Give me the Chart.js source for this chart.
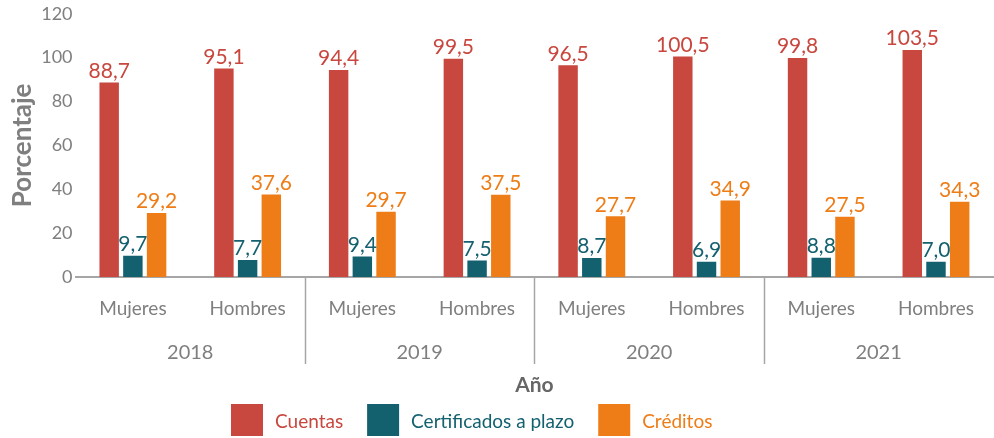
<!DOCTYPE html>
<html>
<head>
<meta charset="utf-8">
<script src="https://cdn.jsdelivr.net/npm/chart.js@4.4.0/dist/chart.umd.min.js"></script>
<style>
  html, body { margin: 0; padding: 0; background: #fff; overflow: hidden; }
  #wrap { width: 994px; height: 438px; position: relative; }
</style>
</head>
<body>
<div id="wrap"><canvas id="myChart"></canvas></div>
<script>
var categories = ['Mujeres', 'Hombres', 'Mujeres', 'Hombres', 'Mujeres', 'Hombres', 'Mujeres', 'Hombres'];
var years = ['2018', '2019', '2020', '2021'];
var cuentas = [88.7, 95.1, 94.4, 99.5, 96.5, 100.5, 99.8, 103.5];
var certificados = [9.7, 7.7, 9.4, 7.5, 8.7, 6.9, 8.8, 7.0];
var creditos = [29.2, 37.6, 29.7, 37.5, 27.7, 34.9, 27.5, 34.3];
var yTicks = [0, 20, 40, 60, 80, 100, 120];

var fontFam = 'Lato, "Open Sans", sans-serif';
var grey = '#7f7f7f';

// etiquetas de valor encima de cada barra
var valueLabels = {
  id: 'valueLabels',
  afterDatasetsDraw: function (chart) {
    var ctx = chart.ctx;
    ctx.save();
    ctx.font = '21px ' + fontFam;
    ctx.textAlign = 'center';
    ctx.textBaseline = 'bottom';
    chart.data.datasets.forEach(function (ds, i) {
      var meta = chart.getDatasetMeta(i);
      ctx.fillStyle = ds.backgroundColor;
      meta.data.forEach(function (bar, j) {
        ctx.fillText(ds.data[j].toFixed(1).replace('.', ','), bar.x, bar.y - 1);
      });
    });
    ctx.restore();
  }
};

// años y separadores debajo de las categorias
var yearGroups = {
  id: 'yearGroups',
  afterDraw: function (chart) {
    var ctx = chart.ctx;
    var x = chart.scales.x;
    var bottom = chart.chartArea.bottom;
    ctx.save();
    ctx.font = '20px ' + fontFam;
    ctx.fillStyle = grey;
    ctx.textAlign = 'center';
    ctx.textBaseline = 'middle';
    years.forEach(function (yr, i) {
      var cx = (x.getPixelForValue(2 * i) + x.getPixelForValue(2 * i + 1)) / 2;
      ctx.fillText(yr, cx, bottom + 76);
    });
    ctx.strokeStyle = '#a6a6a6';
    ctx.lineWidth = 1.5;
    for (var i = 1; i < years.length; i++) {
      var dx = Math.round((x.getPixelForValue(2 * i - 1) + x.getPixelForValue(2 * i)) / 2) + 0.5;
      ctx.beginPath();
      ctx.moveTo(dx, bottom);
      ctx.lineTo(dx, bottom + 87);
      ctx.stroke();
    }
    ctx.restore();
  }
};

// leyenda dibujada a mano (cuadros grandes, texto del color de la serie)
var bottomLegend = {
  id: 'bottomLegend',
  afterDraw: function (chart) {
    var ctx = chart.ctx;
    ctx.save();
    ctx.font = '19px ' + fontFam;
    ctx.textBaseline = 'middle';
    ctx.textAlign = 'left';
    var lx = 231, top = 404, box = 32;
    chart.data.datasets.forEach(function (ds) {
      ctx.fillStyle = ds.backgroundColor;
      ctx.fillRect(lx, top, box, box);
      lx += box + 12;
      ctx.fillText(ds.label, lx, top + box / 2 + 2);
      lx += ctx.measureText(ds.label).width + 24;
    });
    ctx.restore();
  }
};

var ctx = document.getElementById('myChart').getContext('2d');
var config = {
  type: 'bar',
  data: {
    labels: categories,
    datasets: [{
      label: 'Cuentas',
      data: cuentas,
      backgroundColor: '#c8473e'
    }, {
      label: 'Certificados a plazo',
      data: certificados,
      backgroundColor: '#13606f'
    }, {
      label: 'Créditos',
      data: creditos,
      backgroundColor: '#ee7d17'
    }]
  },
  options: {
    responsive: true,
    maintainAspectRatio: false,
    animation: false,
    layout: { padding: { top: 10, right: 0, left: 5, bottom: 36 } },
    datasets: {
      bar: { categoryPercentage: 0.62, barPercentage: 0.82 }
    },
    scales: {
      y: {
        min: 0,
        max: 120,
        afterBuildTicks: function (scale) {
          scale.ticks = yTicks.map(function (v) { return { value: v }; });
        },
        grid: { display: false, drawTicks: false },
        border: { display: false },
        ticks: { color: grey, font: { family: fontFam, size: 18 }, padding: 3 },
        title: {
          display: true,
          text: 'Porcentaje',
          color: grey,
          font: { family: fontFam, size: 26, weight: 'bold' },
          padding: { top: 2, bottom: 0 }
        }
      },
      x: {
        grid: { display: false, drawTicks: false },
        border: { display: true, color: '#a6a6a6', width: 2 },
        ticks: { color: grey, font: { family: fontFam, size: 19 }, padding: 20, maxRotation: 0 },
        title: {
          display: true,
          text: 'Año',
          color: '#666666',
          font: { family: fontFam, size: 21, weight: 'bold' },
          padding: { top: 33, bottom: 4 }
        }
      }
    },
    plugins: {
      tooltip: { enabled: false },
      legend: { display: false }
    }
  },
  plugins: [valueLabels, yearGroups, bottomLegend]
};

var chart = new Chart(ctx, config);
</script>
</body>
</html>
